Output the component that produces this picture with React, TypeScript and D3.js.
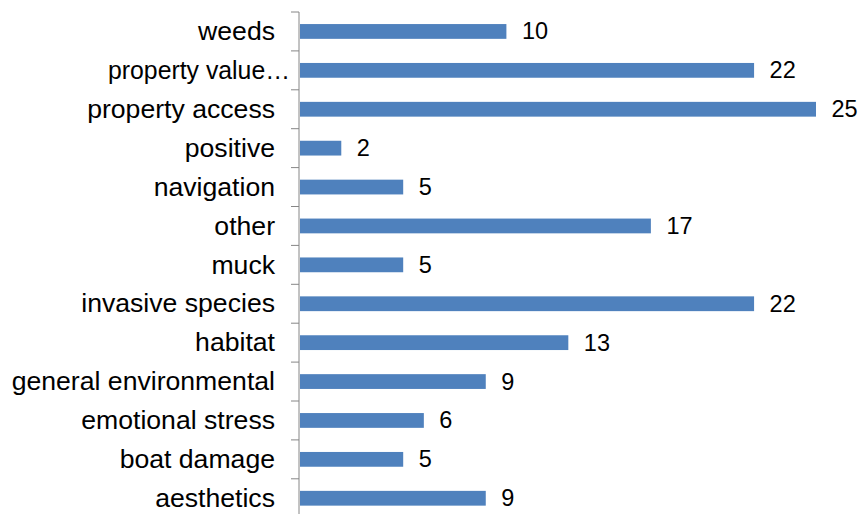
import React from "react";
import * as d3 from "d3";

const categories = [
  "weeds",
  "property value…",
  "property access",
  "positive",
  "navigation",
  "other",
  "muck",
  "invasive species",
  "habitat",
  "general environmental",
  "emotional stress",
  "boat damage",
  "aesthetics",
];
const values = [10, 22, 25, 2, 5, 17, 5, 22, 13, 9, 6, 5, 9];

const W = 862;
const H = 514;
const x0 = 299;
const top = 12;
const step = 38.9;
const pxPerUnit = 20.64;

export default function App() {
  const x = d3.scaleLinear().domain([0, 25]).range([x0, x0 + 25 * pxPerUnit]);
  const y = d3
    .scaleBand<string>()
    .domain(categories)
    .range([top, top + step * categories.length])
    .paddingInner(0.62)
    .paddingOuter(0.31);
  const font = "'Liberation Sans', Arial, sans-serif";
  return (
    <svg
      width={W}
      height={H}
      style={{ position: "absolute", left: 0, top: 0, background: "#fff" }}
    >
      <line x1={x0} x2={x0} y1={top} y2={H + 10} stroke="#868686" strokeWidth={1} />
      {d3.range(categories.length + 1).map((i) => (
        <line
          key={"t" + i}
          x1={x0 - 8}
          x2={x0}
          y1={top + i * step}
          y2={top + i * step}
          stroke="#868686"
          strokeWidth={1}
        />
      ))}
      {categories.map((c, i) => {
        const yc = (y(c) as number) + y.bandwidth() / 2;
        const trunc = c.endsWith("…");
        return (
          <g key={c}>
            <rect
              x={x(0) + 1}
              y={y(c)}
              width={x(values[i]) - x(0)}
              height={y.bandwidth()}
              fill="#4F81BD"
            />
            {trunc ? (
              <text
                x={290}
                y={yc}
                textAnchor="end"
                dominantBaseline="central"
                fontFamily={font}
                fontSize={25}
                textLength={182}
                lengthAdjust="spacingAndGlyphs"
                fill="#000"
              >
                {c}
              </text>
            ) : (
              <text
                transform={`translate(275,${yc}) scale(1.065,1)`}
                textAnchor="end"
                dominantBaseline="central"
                fontFamily={font}
                fontSize={25}
                fill="#000"
              >
                {c}
              </text>
            )}
            <text
              x={x(values[i]) + 16.5}
              y={yc}
              dominantBaseline="central"
              fontFamily={font}
              fontSize={23.5}
              fill="#000"
            >
              {values[i]}
            </text>
          </g>
        );
      })}
    </svg>
  );
}
